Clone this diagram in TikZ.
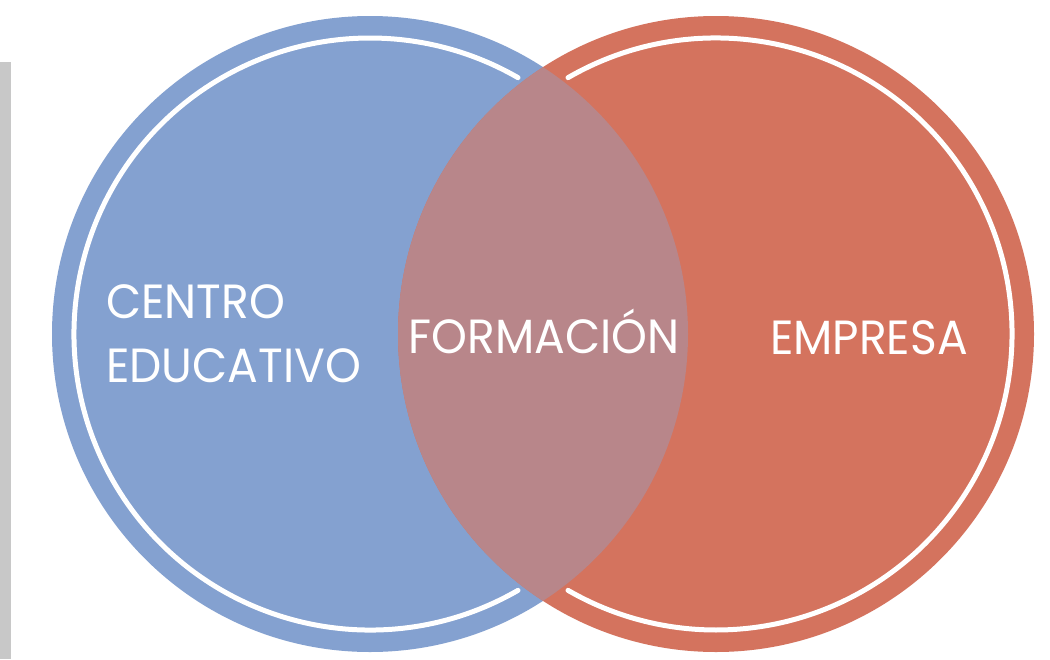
\documentclass[tikz,border=0pt]{standalone}
\usepackage{fontspec}
\setmainfont{Poppins}[FakeStretch=0.95]
\usetikzlibrary{calc}
\definecolor{eduBlue}{HTML}{84A1D0}
\definecolor{empRed}{HTML}{D4735E}
\definecolor{lensCol}{HTML}{B8868A}
\definecolor{grayBar}{HTML}{C8C8C8}
\tikzset{
  ring/.style={white, line width=5pt, line cap=round},
  label/.style={text=white, inner sep=0pt, font=\fontsize{48}{48}\selectfont}
}
\begin{document}
\begin{tikzpicture}[x=1pt,y=-1pt]
\useasboundingbox (0,0) rectangle (1050,659);
\fill[white] (0,0) rectangle (1050,659);
\fill[grayBar] (0,62) rectangle (11,659);
\coordinate (cb) at (370,334);
\coordinate (cr) at (716,334);
\fill[eduBlue] (cb) circle[radius=318];
\fill[empRed] (cr) circle[radius=318];
\draw[ring] ($(cb)+(60:296)$) arc[start angle=60, end angle=300, radius=296];
\draw[ring] ($(cr)+(-120:296)$) arc[start angle=-120, end angle=120, radius=296];
\begin{scope}
  \clip (cb) circle[radius=318];
  \fill[lensCol] (cr) circle[radius=318];
\end{scope}
\node[label, anchor=base west] (centro) at (106,318) {CENTRO};
\node[label, anchor=base west] (educ) at (106,382) {EDUCATIVO};
\node[label, anchor=base] (form) at (544,353) {FORMACIÓN};
\node[label, anchor=base] (emp) at (869,354) {EMPRESA};
\end{tikzpicture}
\end{document}
